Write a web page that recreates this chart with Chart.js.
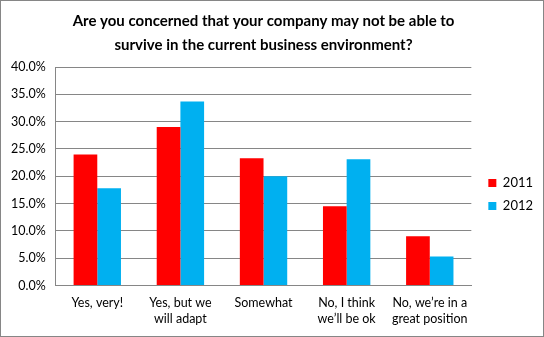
<!DOCTYPE html>
<html>
<head>
<meta charset="utf-8">
<script src="https://cdn.jsdelivr.net/npm/chart.js@4"></script>
<style>
  body { margin: 0; background: #fff; }
  .frame { width: 544px; height: 337px; box-sizing: border-box; border: 1px solid #868686; }
</style>
</head>
<body>
<div class="frame"><canvas id="barChart" width="542" height="335"></canvas></div>
<script>
const categories = [
  ['Yes, very!'],
  ['Yes, but we', 'will adapt'],
  ['Somewhat'],
  ['No, I think', 'we\u2019ll be ok'],
  ['No, we\u2019re in a', 'great position']
];
const values2011 = [24.0, 29.0, 23.3, 14.5, 9.0];
const values2012 = [17.8, 33.7, 20.0, 23.1, 5.3];
const seriesNames = ['2011', '2012'];
const titleLines = [
  'Are you concerned that your company may not be able to',
  'survive in the current business environment?'
];

// nudge the legend block to where Excel put it
const legendShift = {
  id: 'legendShift',
  afterLayout(chart) {
    const lg = chart.legend;
    lg.left += 7; lg.right += 7;
    lg.top += 26; lg.bottom += 26;
  }
};

const ctx = document.getElementById('barChart').getContext('2d');
new Chart(ctx, {
  type: 'bar',
  data: {
    labels: categories,
    datasets: [
      { label: seriesNames[0], data: values2011, backgroundColor: '#ff0000' },
      { label: seriesNames[1], data: values2012, backgroundColor: '#00b0f0' }
    ]
  },
  plugins: [legendShift],
  options: {
    responsive: false,
    animation: false,
    layout: { padding: { left: 0, right: 7, bottom: 0 } },
    datasets: {
      bar: { categoryPercentage: 0.57, barPercentage: 1.0 }
    },
    plugins: {
      title: {
        display: true,
        text: titleLines,
        color: '#000',
        fullSize: false,
        font: { family: 'Lato', size: 15, weight: 'bold', lineHeight: 1.6 },
        padding: { top: 8, bottom: 10 }
      },
      legend: {
        position: 'right',
        labels: {
          color: '#000',
          font: { family: 'Lato', size: 13 },
          boxWidth: 8,
          boxHeight: 8,
          padding: 10
        }
      },
      tooltip: { enabled: false }
    },
    scales: {
      x: {
        grid: { display: false, drawTicks: false },
        border: { color: '#868686' },
        ticks: {
          color: '#000',
          font: { family: 'Lato', size: 12.5, lineHeight: 1.3 },
          padding: 9,
          maxRotation: 0
        }
      },
      y: {
        min: 0,
        max: 40,
        grid: { color: '#868686', drawTicks: false },
        border: { color: '#868686' },
        ticks: {
          stepSize: 5,
          color: '#000',
          font: { family: 'Lato', size: 12.5 },
          padding: 10,
          callback: v => v.toFixed(1) + '%'
        }
      }
    }
  }
});
</script>
</body>
</html>
